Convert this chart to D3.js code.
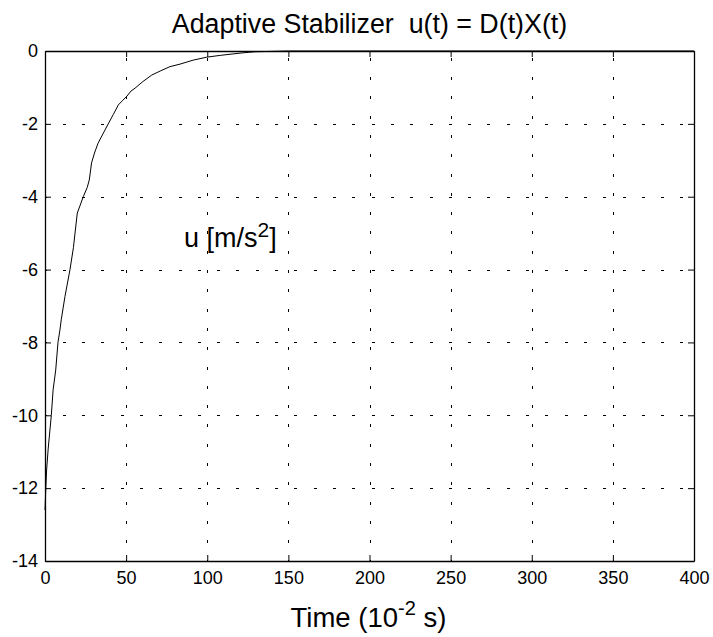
<!DOCTYPE html>
<html>
<head>
<meta charset="utf-8">
<script src="https://cdn.jsdelivr.net/npm/d3@7"></script>
<style>
  html, body { margin: 0; padding: 0; background: #fff; }
  text { font-family: "Liberation Sans", Arial, Helvetica, sans-serif; fill: #000; }
</style>
</head>
<body>
<div id="chart"></div>
<script>
// ---- data ----
const timeValues = [0, 0.5, 1, 2, 3.9, 5, 6.6, 8, 9.2, 10, 12.3, 15.4, 17.5, 18.5, 19.9, 23.6, 26, 27.3, 28.7, 30.5, 32.7, 36, 39, 42, 45.2, 48, 50.3, 53, 55.5, 60, 65.8, 71, 77, 83.2, 91.4, 99.6, 108, 115.9, 122, 129.4, 140, 150, 200, 300, 400];
const uValues    = [-12.6, -12.0, -11.5, -10.9, -10.0, -9.3, -8.76, -8.0, -7.66, -7.38, -6.74, -6.0, -5.4, -5.0, -4.45, -4.0, -3.75, -3.54, -3.07, -2.8, -2.53, -2.25, -2.0, -1.75, -1.48, -1.35, -1.25, -1.1, -1.02, -0.85, -0.66, -0.55, -0.43, -0.36, -0.25, -0.17, -0.12, -0.08, -0.05, -0.02, -0.01, 0, 0, 0, 0];
const xTicks = [0, 50, 100, 150, 200, 250, 300, 350, 400];
const yTicks = [0, -2, -4, -6, -8, -10, -12, -14];
const titleText = "Adaptive Stabilizer  u(t) = D(t)X(t)";

// ---- layout ----
const W = 713, H = 637;
const L = 45, R = 694, T = 51, B = 561;

const svg = d3.select("#chart").append("svg")
  .attr("width", W).attr("height", H)
  .style("background", "#fff");

const x = d3.scaleLinear().domain([0, 400]).range([L, R]);
const y = d3.scaleLinear().domain([-14, 0]).range([B, T]);

// grid
const grid = svg.append("g").attr("stroke", "#000").attr("stroke-width", 1)
  .attr("stroke-dasharray", "3,16.3").attr("stroke-dashoffset", 1.5).attr("fill", "none")
  .attr("shape-rendering", "crispEdges");
xTicks.slice(1, -1).forEach(d => {
  grid.append("line").attr("x1", Math.round(x(d)) + 0.5).attr("x2", Math.round(x(d)) + 0.5)
    .attr("y1", B).attr("y2", T);
});
yTicks.slice(1, -1).forEach(d => {
  grid.append("line").attr("y1", Math.round(y(d)) + 0.5).attr("y2", Math.round(y(d)) + 0.5)
    .attr("x1", L).attr("x2", R);
});

// curve
const line = d3.line().x((d, i) => x(timeValues[i])).y(d => y(d));
svg.append("path").datum(uValues)
  .attr("d", line)
  .attr("fill", "none").attr("stroke", "#000").attr("stroke-width", 1);

// axes with inward ticks
const tickLen = 6;
const fmt = d => String(d);
const axB = svg.append("g").attr("transform", `translate(0,${B})`)
  .call(d3.axisBottom(x).tickValues(xTicks).tickSizeInner(-tickLen).tickSizeOuter(0).tickPadding(10).tickFormat(fmt));
const axT = svg.append("g").attr("transform", `translate(0,${T})`)
  .call(d3.axisTop(x).tickValues(xTicks).tickSizeInner(-tickLen).tickSizeOuter(0).tickFormat(""));
const axL = svg.append("g").attr("transform", `translate(${L},0)`)
  .call(d3.axisLeft(y).tickValues(yTicks).tickSizeInner(-tickLen).tickSizeOuter(0).tickPadding(7).tickFormat(fmt));
const axR = svg.append("g").attr("transform", `translate(${R},0)`)
  .call(d3.axisRight(y).tickValues(yTicks).tickSizeInner(-tickLen).tickSizeOuter(0).tickFormat(""));
[axB, axT, axL, axR].forEach(a => {
  a.selectAll(".domain").attr("stroke", "#000").attr("stroke-width", 1.3);
  a.selectAll(".tick line").attr("stroke", "#000");
  a.selectAll("text").style("font-size", "18px").attr("fill", "#000")
    .style("font-family", '"Liberation Sans", Arial, sans-serif');
});
axB.selectAll("text").attr("dy", "0.71em");

// title
svg.append("text").attr("x", (L + R) / 2).attr("y", 33)
  .attr("text-anchor", "middle").style("font-size", "26.8px").style("white-space", "pre")
  .attr("xml:space", "preserve")
  .text(titleText);

// x label
const xl = svg.append("text").attr("x", (L + R) / 2 - 1).attr("y", 627)
  .attr("text-anchor", "middle").style("font-size", "27.5px");
xl.append("tspan").text("Time (10");
xl.append("tspan").attr("dy", -12).style("font-size", "20px").text("-2");
xl.append("tspan").attr("dy", 12).text(" s)");

// annotation
const ul = svg.append("text").attr("x", 184).attr("y", 247).style("font-size", "27px");
ul.append("tspan").text("u [m/s");
ul.append("tspan").attr("dy", -10).style("font-size", "21px").text("2");
ul.append("tspan").attr("dy", 10).text("]");
</script>
</body>
</html>
